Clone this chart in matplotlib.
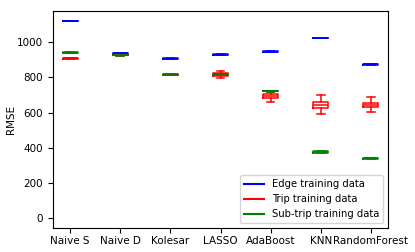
import numpy as np
import matplotlib.pyplot as plt
from matplotlib.lines import Line2D

models = ['Naive S', 'Naive D', 'Kolesar', 'LASSO', 'AdaBoost', 'KNN', 'RandomForest']

# 边训练数据
edge_med = [1122, 937, 907, 930, 947, 1023, 874]
edge_q1 = [1121, 935, 906, 929, 943, 1022, 872]
edge_q3 = [1123, 939, 908, 931, 951, 1024, 876]
edge_lo = [1121, 934, 906, 929, 942, 1022, 872]
edge_hi = [1123, 940, 908, 931, 952, 1024, 876]

# 行程训练数据
trip_med = [909, 927, 815, 818, 693, 644, 642]
trip_q1 = [906, 925, 814, 810, 684, 627, 629]
trip_q3 = [912, 930, 816, 826, 703, 661, 655]
trip_lo = [905, 924, 813, 795, 662, 590, 602]
trip_hi = [913, 931, 817, 835, 718, 701, 686]

# 子行程训练数据
sub_med = [941, 926, 817, 818, 722, 375, 339]
sub_q1 = [940, 925, 815, 816, 720, 371, 336]
sub_q3 = [942, 927, 819, 820, 724, 379, 342]
sub_lo = [940, 924, 815, 815, 719, 370, 335]
sub_hi = [942, 928, 819, 821, 725, 380, 343]

series = [
    ('Edge training data', 'blue', edge_med, edge_q1, edge_q3, edge_lo, edge_hi),
    ('Trip training data', 'red', trip_med, trip_q1, trip_q3, trip_lo, trip_hi),
    ('Sub-trip training data', 'green', sub_med, sub_q1, sub_q3, sub_lo, sub_hi),
]

plt.rcParams['font.size'] = 7.5
plt.rcParams['xtick.major.pad'] = 2.5
fig = plt.figure(figsize=(4.15, 2.52), dpi=100)
ax = fig.add_subplot(111)
fig.subplots_adjust(left=53/415, right=388/415, top=1-11/252, bottom=1-228/252)

pos = np.arange(1, len(models) + 1)
handles = []
for name, c, med, q1, q3, lo, hi in series:
    stats = []
    for i in range(len(models)):
        stats.append({'med': med[i], 'q1': q1[i], 'q3': q3[i],
                      'whislo': lo[i], 'whishi': hi[i], 'fliers': []})
    props = dict(color=c, linewidth=1.1)
    ax.bxp(stats, positions=pos, widths=0.3, showfliers=False,
           boxprops=props, whiskerprops=props, capprops=props,
           medianprops=props)
    handles.append(Line2D([0], [0], color=c, label=name))

ax.set_xticks(pos)
ax.set_xticklabels(models)
ax.set_xlim(0.66, 7.34)
ax.set_ylim(-57, 1178)
ax.set_ylabel('RMSE', labelpad=1)
ax.legend(handles=handles, loc='lower right', fontsize=7.2)

fig.savefig('out.png')
